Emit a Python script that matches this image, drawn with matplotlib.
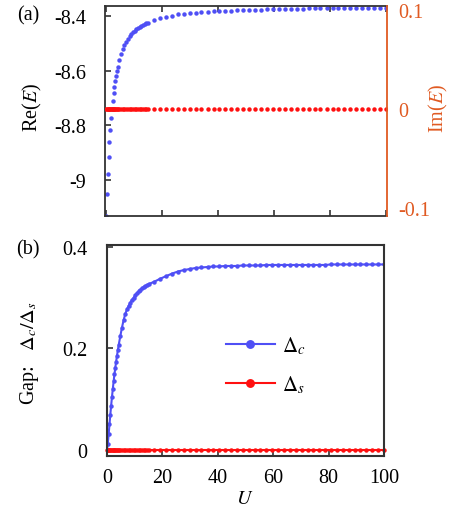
import matplotlib
matplotlib.use("Agg")
import matplotlib.pyplot as plt


# U grid: dense part (0..15) and sparse part (15..100)
U = [
    0.0, 0.3, 0.6, 0.9, 1.2, 1.5, 1.8, 2.1, 2.4, 2.7, 3.0, 3.3, 3.6, 3.9, 4.2,
    4.8, 5.4, 6.0, 6.6, 7.2, 7.8, 8.4, 9.0, 9.6, 10.2, 10.8, 11.4, 12.0, 12.6,
    13.2, 13.8, 14.4, 15.0,
    17.1, 19.3, 21.4, 23.5, 25.6, 27.8, 29.9, 32.0, 34.1, 36.3, 38.4, 40.5,
    42.6, 44.8, 46.9, 49.0, 51.1, 53.3, 55.4, 57.5, 59.6, 61.8, 63.9, 66.0,
    68.1, 70.3, 72.4, 74.5, 76.6, 78.8, 80.9, 83.0, 85.1, 87.3, 89.4, 91.5,
    93.6, 95.8, 97.9, 100.0,
]

# (a) real part of E (left axis)
RE_E = [
    -9.132, -9.052, -8.979, -8.916, -8.863, -8.817, -8.775, -8.741, -8.711,
    -8.684, -8.660, -8.638, -8.619, -8.601, -8.588,
    -8.563, -8.541, -8.523, -8.508, -8.495, -8.484, -8.475, -8.467, -8.460,
    -8.454, -8.449, -8.444, -8.440, -8.436, -8.433, -8.431, -8.428, -8.425,
    -8.416, -8.409, -8.403, -8.399, -8.395, -8.392, -8.390, -8.388, -8.386,
    -8.385, -8.384, -8.383, -8.382, -8.381, -8.380, -8.379, -8.378, -8.378,
    -8.377, -8.376, -8.376, -8.375, -8.375, -8.374, -8.374, -8.374, -8.373,
    -8.373, -8.373, -8.372, -8.372, -8.372, -8.372, -8.371, -8.371, -8.371,
    -8.371, -8.370, -8.370, -8.370,
]

# (a) imaginary part of E (right axis)
IM_E = [
    0, 0, 0, 0, 0, 0, 0, 0, 0, 0, 0, 0, 0, 0, 0,
    0, 0, 0, 0, 0, 0, 0, 0, 0, 0, 0, 0, 0, 0, 0, 0, 0, 0,
    0, 0, 0, 0, 0, 0, 0, 0, 0, 0, 0, 0, 0, 0, 0, 0, 0, 0, 0, 0,
    0, 0, 0, 0, 0, 0, 0, 0, 0, 0, 0, 0, 0, 0, 0, 0, 0, 0, 0, 0,
]

# (b) charge gap
DELTA_C = [
    0.000, 0.012, 0.030, 0.050, 0.069, 0.087, 0.104, 0.120, 0.135, 0.149,
    0.162, 0.174, 0.185, 0.196, 0.206,
    0.224, 0.241, 0.256, 0.268, 0.277, 0.284, 0.290, 0.296, 0.300, 0.305,
    0.309, 0.313, 0.316, 0.319, 0.321, 0.323, 0.325, 0.327,
    0.332, 0.338, 0.343, 0.348, 0.352, 0.355, 0.357, 0.359, 0.360, 0.361,
    0.362, 0.362, 0.363, 0.363, 0.363, 0.364, 0.364, 0.364, 0.364, 0.365,
    0.365, 0.365, 0.365, 0.365, 0.365, 0.365, 0.365, 0.365, 0.365, 0.365,
    0.366, 0.366, 0.366, 0.366, 0.366, 0.366, 0.366, 0.366, 0.366, 0.366,
]

# (b) spin gap
DELTA_S = [
    0, 0, 0, 0, 0, 0, 0, 0, 0, 0, 0, 0, 0, 0, 0,
    0, 0, 0, 0, 0, 0, 0, 0, 0, 0, 0, 0, 0, 0, 0, 0, 0, 0,
    0, 0, 0, 0, 0, 0, 0, 0, 0, 0, 0, 0, 0, 0, 0, 0, 0, 0, 0, 0,
    0, 0, 0, 0, 0, 0, 0, 0, 0, 0, 0, 0, 0, 0, 0, 0, 0, 0, 0, 0,
]

X_TICKS = [0, 20, 40, 60, 80, 100]
RE_TICKS = [-9, -8.8, -8.6, -8.4]
RE_TICK_LABELS = ["-9", "-8.8", "-8.6", "-8.4"]
IM_TICKS = [-0.1, 0, 0.1]
IM_TICK_LABELS = ["-0.1", "0", "0.1"]
GAP_TICKS = [0, 0.2, 0.4]
GAP_TICK_LABELS = ["0", "0.2", "0.4"]

BLUE = "#4f4ff5"
RED = "#ff1010"
ORANGE = "#e05a22"
SPINE = "#333333"

plt.rcParams["font.family"] = ["Liberation Serif", "DejaVu Serif"]
plt.rcParams["mathtext.fontset"] = "stix"
plt.rcParams["axes.unicode_minus"] = False
plt.rcParams["font.size"] = 14.5

fig = plt.figure(figsize=(4.57, 5.10), dpi=100)

# ---- panel (a)
ax1 = fig.add_axes([0.2304, 0.5745, 0.6158, 0.4118])
ax1.plot(U, RE_E, "o", color=BLUE, ms=3.2, mec="none")
ax1.set_xlim(-0.25, 100.25)
ax1.set_ylim(-9.132, -8.364)
ax1.set_xticks(X_TICKS)
ax1.set_xticklabels([])
ax1.set_yticks(RE_TICKS)
ax1.set_yticklabels(RE_TICK_LABELS)
ax1.tick_params(direction="in", top=True, length=4.5, width=1.2,
                color=SPINE, pad=14)
ax1.tick_params(axis="x", pad=9)
ax1.set_ylabel("Re($E$)", va="center")
ax1.yaxis.set_label_coords(-0.257, 0.52)
for s in ax1.spines.values():
    s.set_color(SPINE)
    s.set_linewidth(1.3)
ax1.spines["right"].set_visible(False)

ax1r = ax1.twinx()
ax1r.plot(U, IM_E, "o", color=RED, ms=3.2, mec="none")
ax1r.set_ylim(-0.108, 0.104)
ax1r.set_yticks(IM_TICKS)
ax1r.set_yticklabels(IM_TICK_LABELS)
ax1r.tick_params(axis="y", length=0, pad=8.5, labelcolor=ORANGE)
ax1r.set_ylabel("Im($E$)", color=ORANGE, rotation=90, va="center")
ax1r.yaxis.set_label_coords(1.185, 0.515)
for name in ["left", "top", "bottom"]:
    ax1r.spines[name].set_visible(False)
ax1r.spines["right"].set_color(ORANGE)
ax1r.spines["right"].set_linewidth(1.3)

# ---- panel (b)
ax2 = fig.add_axes([0.2341, 0.1045, 0.6061, 0.4137])
ax2.plot(U, DELTA_C, "-o", color=BLUE, lw=1.5, ms=3.2, mec="none",
         label=r"$\Delta_c$")
ax2.plot(U, DELTA_S, "-o", color=RED, lw=1.5, ms=3.2, mec="none",
         label=r"$\Delta_s$", clip_on=False)
ax2.set_xlim(0, 100)
ax2.set_ylim(-0.012, 0.405)
ax2.set_xticks(X_TICKS)
ax2.set_yticks(GAP_TICKS)
ax2.set_yticklabels(GAP_TICK_LABELS)
ax2.tick_params(direction="in", length=4.5, width=1.2, color=SPINE)
ax2.tick_params(axis="y", pad=14)
ax2.tick_params(axis="x", pad=9)
for s in ax2.spines.values():
    s.set_color(SPINE)
    s.set_linewidth(1.5)
ax2.set_ylabel(r"Gap:   $\Delta_c/\Delta_s$", va="center")
ax2.yaxis.set_label_coords(-0.278, 0.49)
ax2.set_xlabel("$U$", va="center")
ax2.xaxis.set_label_coords(0.498, -0.205)

ax2.legend(loc="center left", bbox_to_anchor=(0.362, 0.43), frameon=False,
           handlelength=2.35, markerscale=2.0, labelspacing=0.8,
           handletextpad=0.35, fontsize=15)

fig.text(28 / 457, 1 - 16 / 510, "(a)", ha="center", va="center")
fig.text(28 / 457, 1 - 250 / 510, "(b)", ha="center", va="center")

fig.savefig("out.png", dpi=100)
